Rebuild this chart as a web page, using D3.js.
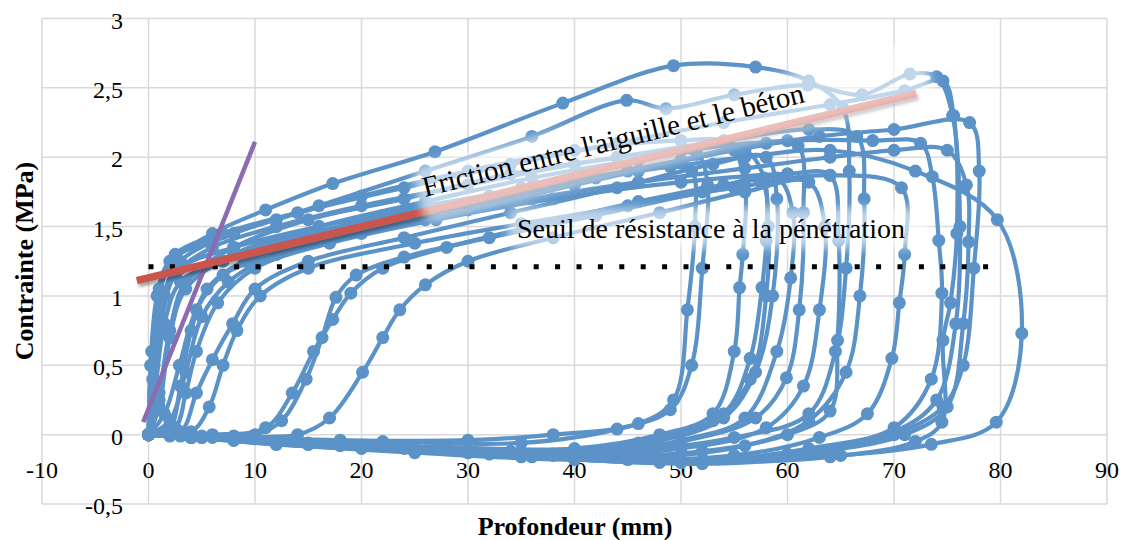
<!DOCTYPE html>
<html>
<head>
<meta charset="utf-8">
<script src="https://cdn.jsdelivr.net/npm/d3@7"></script>
<style>
  body { margin: 0; background: #fff; }
  text { font-family: "Liberation Serif", "Times New Roman", serif; }
</style>
</head>
<body>
<svg id="chart"></svg>
<script>
var svgWidth = 1130,
    svgHeight = 540;

// axes
var xTicks = [-10, 0, 10, 20, 30, 40, 50, 60, 70, 80, 90];
var yTicks = [-0.5, 0, 0.5, 1, 1.5, 2, 2.5, 3];
var yTickLabels = ["-0,5", "0", "0,5", "1", "1,5", "2", "2,5", "3"];

// load / unload cycles : [profondeur (mm), contrainte (MPa)]
var cycle01 = [[0,0],[0.6,0.3],[1.5,0.8],[3,1.1],[7,1.25],[14,1.42],[22,1.58],[32,1.72],[42,1.85],[49,1.93],[51,1.9],
  [51.3,1.5],[50.6,0.9],[49.3,0.25],[46,0.08],[38,0.0],[30,-0.04],[18,-0.04],[8,-0.02],[2,-0.01],[0,0]];
var cycle02 = [[0,0],[1,0.2],[2,0.7],[3.5,1.05],[8,1.3],[16,1.5],[26,1.68],[36,1.85],[46,1.98],[51.5,2.02],
  [52.5,1.8],[52,1.2],[51,0.5],[49,0.18],[44,0.04],[35,-0.06],[22,-0.05],[10,-0.03],[3,-0.01],[0,0]];
var cycle03 = [[0,0],[0.2,0.5],[0.8,1.0],[2,1.25],[6,1.4],[12,1.55],[20,1.72],[30,1.9],[40,2.05],[50,2.12],[54.5,2.1],
  [56,1.8],[55.8,1.3],[55.5,1.06],[55,0.6],[53,0.15],[48,0.0],[40,-0.1],[28,-0.09],[14,-0.05],[4,-0.02],[0,0]];
var cycle04 = [[0,0],[2,0.1],[3.5,0.45],[5,0.85],[7.5,1.1],[12,1.3],[20,1.48],[30,1.65],[40,1.82],[50,1.98],[56,2.05],
  [57.8,1.85],[58,1.4],[57.6,1.06],[56.5,0.55],[54,0.15],[48,-0.02],[40,-0.12],[28,-0.1],[15,-0.06],[5,-0.02],[0,0]];
var cycle05 = [[0,0],[3,0.02],[4.5,0.3],[6,0.54],[7.9,0.8],[10,1.05],[15,1.25],[24,1.42],[34,1.6],[44,1.78],[53,1.95],[58,2.0],
  [59,1.7],[58.6,1.0],[57,0.45],[54,0.12],[47,-0.06],[38,-0.14],[25,-0.11],[12,-0.06],[4,-0.02],[0,0]];
var cycle06 = [[0,0],[1.5,0.15],[2.9,0.5],[4.5,0.9],[7,1.15],[12,1.3],[20,1.45],[30,1.62],[40,1.8],[50,1.97],[58,2.1],[61,2.08],
  [61.5,1.6],[61.1,0.9],[59.9,0.41],[57,0.12],[50,-0.05],[40,-0.15],[25,-0.12],[12,-0.07],[4,-0.02],[0,0]];
var cycle07 = [[0,0],[0.3,0.5],[1,1.0],[2.2,1.25],[6,1.45],[11,1.62],[17.3,1.81],[26.9,2.04],[38.9,2.39],[49.3,2.66],[57,2.65],[62,2.55],[65.2,2.35],
  [65.8,1.9],[65.5,1.2],[64.5,0.6],[62,0.15],[55,-0.02],[44,-0.12],[28,-0.1],[14,-0.05],[4,-0.02],[0,0]];
var cycle08 = [[0,0],[2.5,0.05],[3.5,0.3],[4.5,0.6],[6.5,0.95],[10,1.2],[17,1.38],[27,1.55],[38,1.7],[50,1.82],[60,1.88],[64,1.87],
  [64.8,1.4],[64.7,0.68],[64,0.17],[60,0.0],[52,-0.12],[40,-0.16],[25,-0.12],[12,-0.06],[4,-0.02],[0,0]];
var cycle09 = [[0,0],[1,0.3],[2,0.75],[3.5,1.1],[8,1.35],[15,1.55],[24,1.7],[34,1.88],[44,2.0],[54,2.12],[62,2.2],[66.5,2.15],
  [67.2,1.7],[66.8,1.0],[65.5,0.45],[62,0.1],[56,-0.08],[45,-0.17],[30,-0.13],[15,-0.07],[5,-0.02],[0,0]];
var cycle10 = [[0,0],[4,0.02],[5.7,0.2],[7,0.5],[8.3,0.75],[10.5,1.0],[15,1.2],[25,1.38],[35,1.52],[45,1.65],[55,1.78],[64,1.87],[70.7,1.78],
  [71,1.3],[70.5,0.95],[69.8,0.55],[67.5,0.15],[63,-0.02],[55,-0.15],[40,-0.18],[25,-0.13],[12,-0.07],[4,-0.02],[0,0]];
var cycle11 = [[0,0],[0.5,0.3],[1.2,0.8],[2.5,1.15],[6,1.35],[12,1.5],[20,1.65],[30,1.8],[40,1.95],[50,2.05],[60,2.12],[68,2.12],[72.5,2.1],
  [73.6,1.86],[74.2,1.4],[74.5,1.02],[73.5,0.4],[70,0.05],[62,-0.1],[50,-0.2],[35,-0.16],[20,-0.1],[8,-0.04],[0,0]];
var cycle12 = [[0,0],[0.3,0.6],[1,1.05],[2.5,1.3],[7,1.45],[14,1.6],[24,1.78],[34,1.95],[44,2.1],[54,2.25],[64,2.38],[71,2.48],[74.6,2.55],
  [75.6,2.3],[75.9,1.45],[75.3,0.95],[74.6,0.68],[74.5,0.09],[72,-0.05],[64,-0.16],[50,-0.2],[35,-0.15],[20,-0.09],[8,-0.04],[0,0]];
var cycle13 = [[0,0],[0.4,0.4],[1.2,0.95],[3,1.25],[8,1.45],[16,1.65],[26,1.9],[36,2.15],[44.9,2.41],[48.6,2.35],[55,2.45],[61.9,2.52],[67,2.45],[71.5,2.6],[74,2.58],
  [75.5,2.3],[76.2,1.5],[75.8,0.8],[74,0.25],[70,0.02],[60,-0.14],[45,-0.18],[30,-0.13],[15,-0.07],[5,-0.02],[0,0]];
var cycle14 = [[0,0],[2,0.05],[3,0.35],[4,0.75],[5.5,1.05],[9,1.25],[16,1.4],[26,1.55],[36,1.7],[46,1.82],[56,1.92],[64,2.0],[70,2.05],[75,2.05],
  [76.8,1.8],[77,1.39],[76.5,0.8],[75,0.2],[71,0.0],[63,-0.12],[50,-0.18],[35,-0.14],[20,-0.08],[8,-0.03],[0,0]];
var cycle15 = [[0,0],[1,0.25],[2,0.7],[3.5,1.1],[8,1.3],[15,1.45],[25,1.6],[35,1.78],[45,1.9],[55,2.05],[63,2.15],[70,2.2],[77.1,2.25],
  [78,1.9],[77.5,1.2],[76.5,0.5],[74.6,0.2],[70,0.0],[62,-0.14],[48,-0.2],[32,-0.14],[18,-0.08],[6,-0.02],[0,0]];
var cycle16 = [[0,0],[0.5,0.5],[1.5,1.0],[3,1.2],[8,1.35],[16,1.5],[26,1.65],[36,1.78],[46,1.9],[56,2.0],[64,2.05],[72,1.9],[79.7,1.55],
  [82,0.73],[79.6,0.09],[73.5,-0.07],[65,-0.15],[52,-0.21],[36,-0.16],[20,-0.09],[8,-0.04],[0,0]];
var cycle17 = [[0,0],[5,-0.01],[10,0.0],[12.5,0.1],[14.8,0.4],[16.3,0.7],[17.6,0.99],[19.5,1.15],[24,1.28],[32,1.42],[42,1.58],[52,1.75],[59,1.85],
  [60.5,1.6],[60.3,1.13],[59,0.6],[56,0.12],[50,-0.04],[40,-0.14],[25,-0.11],[12,-0.06],[4,-0.02],[0,0]];
var cycle18 = [[0,0],[8,-0.01],[14,0.0],[17,0.12],[20.1,0.45],[22,0.7],[23.6,0.9],[26,1.08],[30,1.25],[38,1.42],[48,1.6],[56,1.75],[62,1.82],
  [63.5,1.5],[63,0.9],[61.5,0.35],[58,0.05],[50,-0.1],[38,-0.15],[24,-0.1],[12,-0.05],[4,-0.02],[0,0]];
var cycle19 = [[0,0],[6,0.0],[11,0.05],[13.5,0.3],[15.5,0.6],[17.3,0.83],[19,1.02],[22,1.2],[28,1.35],[36,1.5],[46,1.68],[54,1.8],[57.5,1.82],
  [58.2,1.5],[58,1.0],[56.5,0.4],[53,0.1],[46,-0.06],[34,-0.12],[20,-0.08],[8,-0.03],[0,0]];

var cycles = [cycle01, cycle02, cycle03, cycle04, cycle05, cycle06, cycle07, cycle08, cycle09, cycle10,
              cycle11, cycle12, cycle13, cycle14, cycle15, cycle16, cycle17, cycle18, cycle19];

// annotation lines
var seuilLine = [[0, 1.21], [80.2, 1.21]];
var frictionLine = [[-1.1, 1.11], [72.1, 2.46]];
var elasticLine = [[-0.5, 0.09], [10, 2.11]];

var blue = "#5b93c8";

var svg = d3.select("#chart")
      .attr("width", svgWidth)
      .attr("height", svgHeight);

var x = d3.scaleLinear().domain([-10, 90]).range([42, 1107]);
var y = d3.scaleLinear().domain([-0.5, 3]).range([504, 18.5]);

var defs = svg.append("defs");
defs.append("filter").attr("id", "soft")
    .attr("x", "-20%").attr("y", "-50%").attr("width", "140%").attr("height", "200%")
  .append("feGaussianBlur").attr("stdDeviation", 5);
var shadow = defs.append("filter").attr("id", "shadow")
    .attr("x", "-10%").attr("y", "-50%").attr("width", "120%").attr("height", "200%");
shadow.append("feDropShadow").attr("dx", 2).attr("dy", 3).attr("stdDeviation", 1.5)
    .attr("flood-color", "#000").attr("flood-opacity", 0.35);

// grid
svg.append("g").selectAll("line")
    .data(xTicks)
    .enter()
    .append("line")
    .attr("x1", function(d) { return x(d); })
    .attr("x2", function(d) { return x(d); })
    .attr("y1", y(3))
    .attr("y2", y(-0.5))
    .attr("stroke", "#d9d9d9")
    .attr("stroke-width", 1.5);

svg.append("g").selectAll("line")
    .data(yTicks)
    .enter()
    .append("line")
    .attr("x1", x(-10))
    .attr("x2", x(90))
    .attr("y1", function(d) { return y(d); })
    .attr("y2", function(d) { return y(d); })
    .attr("stroke", "#d9d9d9")
    .attr("stroke-width", 1.5);

// tick labels
svg.append("g").selectAll("text")
    .data(xTicks)
    .enter()
    .append("text")
    .text(function(d) { return d; })
    .attr("x", function(d) { return x(d); })
    .attr("y", y(0) + 43)
    .attr("text-anchor", "middle")
    .attr("font-size", "24px")
    .attr("fill", "#000");

svg.append("g").selectAll("text")
    .data(yTicks)
    .enter()
    .append("text")
    .text(function(d, i) { return yTickLabels[i]; })
    .attr("x", 123)
    .attr("y", function(d) { return y(d) + 10; })
    .attr("text-anchor", "end")
    .attr("font-size", "24px")
    .attr("fill", "#000");

// axis titles
svg.append("text")
    .text("Profondeur (mm)")
    .attr("x", 575)
    .attr("y", 535)
    .attr("text-anchor", "middle")
    .attr("font-size", "26px")
    .attr("font-weight", "bold");

svg.append("text")
    .text("Contrainte (MPa)")
    .attr("transform", "translate(33,261) rotate(-90)")
    .attr("text-anchor", "middle")
    .attr("font-size", "26px")
    .attr("font-weight", "bold");

// series
var line = d3.line()
    .x(function(d) { return x(d[0]); })
    .y(function(d) { return y(d[1]); })
    .curve(d3.curveCatmullRom.alpha(0.5));

var series = svg.append("g").selectAll("g")
    .data(cycles)
    .enter()
    .append("g");

series.append("path")
    .attr("d", function(d) { return line(d); })
    .attr("fill", "none")
    .attr("stroke", blue)
    .attr("stroke-width", 4.2)
    .attr("stroke-linejoin", "round");

series.selectAll("circle")
    .data(function(d) { return d; })
    .enter()
    .append("circle")
    .attr("cx", function(d) { return x(d[0]); })
    .attr("cy", function(d) { return y(d[1]); })
    .attr("r", 6.5)
    .attr("fill", blue);

// threshold (dotted)
var straight = d3.line()
    .x(function(d) { return x(d[0]); })
    .y(function(d) { return y(d[1]); });

svg.append("path")
    .attr("d", straight(seuilLine))
    .attr("stroke", "#000")
    .attr("stroke-width", 5)
    .attr("stroke-dasharray", "5 16.4")
    .attr("fill", "none");

svg.append("path")
    .attr("d", straight(elasticLine))
    .attr("stroke", "#8c6bb1")
    .attr("stroke-width", 4.5)
    .attr("fill", "none");

svg.append("path")
    .attr("d", straight(frictionLine))
    .attr("stroke", "#c9554d")
    .attr("stroke-width", 7.5)
    .attr("fill", "none")
    .attr("filter", "url(#shadow)");

// text boxes (translucent white)
var fric = svg.append("g")
    .attr("transform", "translate(425,197) rotate(-14)");

fric.append("rect")
    .attr("x", -6).attr("y", -32)
    .attr("width", 525).attr("height", 58)
    .attr("rx", 12)
    .attr("fill", "#fff")
    .attr("opacity", 0.62)
    .attr("filter", "url(#soft)");

fric.append("text")
    .text("Friction entre l'aiguille et le béton")
    .attr("x", 0)
    .attr("y", 0)
    .attr("font-size", "29px")
    .attr("fill", "#000");

svg.append("rect")
    .attr("x", 508).attr("y", 208)
    .attr("width", 420).attr("height", 40)
    .attr("rx", 10)
    .attr("fill", "#fff")
    .attr("opacity", 0.6)
    .attr("filter", "url(#soft)");

svg.append("text")
    .text("Seuil de résistance à la pénétration")
    .attr("x", 517)
    .attr("y", 238)
    .attr("font-size", "28px")
    .attr("fill", "#000");
</script>
</body>
</html>
